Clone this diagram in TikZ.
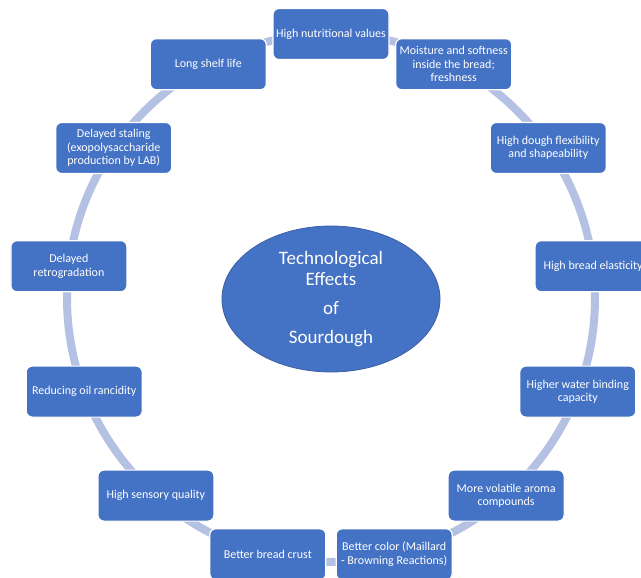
\documentclass[tikz,border=0pt]{standalone}
\usepackage{fontspec}
\setmainfont{Carlito}
\usetikzlibrary{shapes.geometric}
\definecolor{boxblue}{RGB}{68,114,196}
\definecolor{ringblue}{RGB}{180,193,226}
\definecolor{edgeblue}{RGB}{60,95,165}
\begin{document}
\begin{tikzpicture}[x=1pt,y=-1pt,
  effect/.style={rectangle, rounded corners=6pt, fill=boxblue, draw=white, line width=1.2pt,
    minimum width=116pt, minimum height=51pt, text=white, align=center,
    font=\fontsize{12}{13.5}\selectfont, inner sep=1pt},
  hub/.style={ellipse, fill=boxblue, draw=edgeblue, line width=0.8pt,
    minimum width=218pt, minimum height=146pt, text=white, align=center,
    font=\fontsize{19}{21}\selectfont, inner sep=0pt},
  ring/.style={draw=ringblue, line width=8pt}]
\useasboundingbox (0,0) rectangle (641,578);
\coordinate (c) at (331,298);
\draw[ring] (c) circle [radius=264pt];
\node[hub] (hub) at (331,299) {Technological\\Effects\\[8pt]of\\[8pt]Sourdough};
\node[effect] (n1) at (331,34) {High nutritional values};
\node[effect] (n2) at (453.7,64.2) {Moisture and softness\\inside the bread;\\freshness};
\node[effect] (n3) at (548.3,148) {High dough flexibility\\and shapeability};
\node[effect] (n4) at (593.1,266.2) {High bread elasticity};
\node[effect] (n5) at (577.8,391.6) {Higher water binding\\capacity};
\node[effect] (n6) at (506.1,495.6) {More volatile aroma\\compounds};
\node[effect] (n7) at (394.2,554.3) {Better color (Maillard\\- Browning Reactions)};
\node[effect] (n8) at (267.8,554.3) {Better bread crust};
\node[effect] (n9) at (155.9,495.6) {High sensory quality};
\node[effect] (n10) at (84.2,391.6) {Reducing oil rancidity};
\node[effect] (n11) at (68.9,266.2) {Delayed\\retrogradation};
\node[effect] (n12) at (113.7,148) {Delayed staling\\(exopolysaccharide\\production by LAB)};
\node[effect] (n13) at (208.3,64.2) {Long shelf life};
\end{tikzpicture}
\end{document}
